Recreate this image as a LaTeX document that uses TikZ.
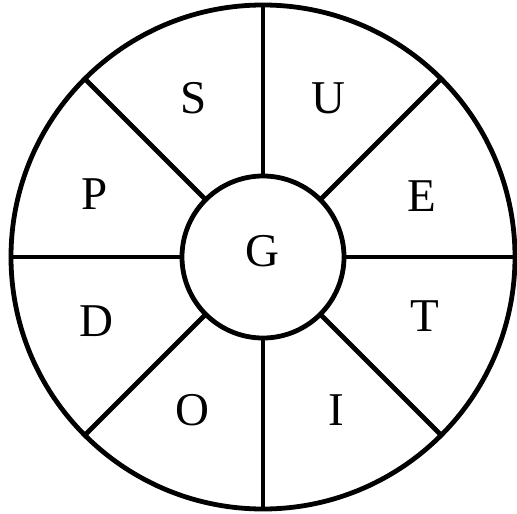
\documentclass[tikz,border=0pt]{standalone}
\usepackage{fontspec}
\setmainfont{Liberation Serif}
\begin{document}
\begin{tikzpicture}[x=1pt,y=-1pt,
  ring/.style={draw=black,line width=4.8pt,circle,inner sep=0pt,outer sep=0pt},
  spoke/.style={draw=black,line width=4.8pt},
  lab/.style={font=\fontsize{47}{47}\selectfont,inner sep=0pt,anchor=center}]
\useasboundingbox (0,0) rectangle (517,514);
\node[ring,minimum size=504pt] (outer) at (263,257) {};
\node[ring,minimum size=162pt] (inner) at (263,257) {};
\foreach \a in {0,45,...,315}{
  \draw[spoke] (inner.\a) -- (outer.\a);
}
\node[lab] (S) at (194,98) {S};
\node[lab] (U) at (328,98) {U};
\node[lab] (P) at (95,194) {P};
\node[lab] (E) at (422,196) {E};
\node[lab] (G) at (262,251) {G};
\node[lab] (D) at (96,321) {D};
\node[lab] (T) at (425,316) {T};
\node[lab] (O) at (192,410) {O};
\node[lab] (I) at (336,410) {I};
\end{tikzpicture}
\end{document}
